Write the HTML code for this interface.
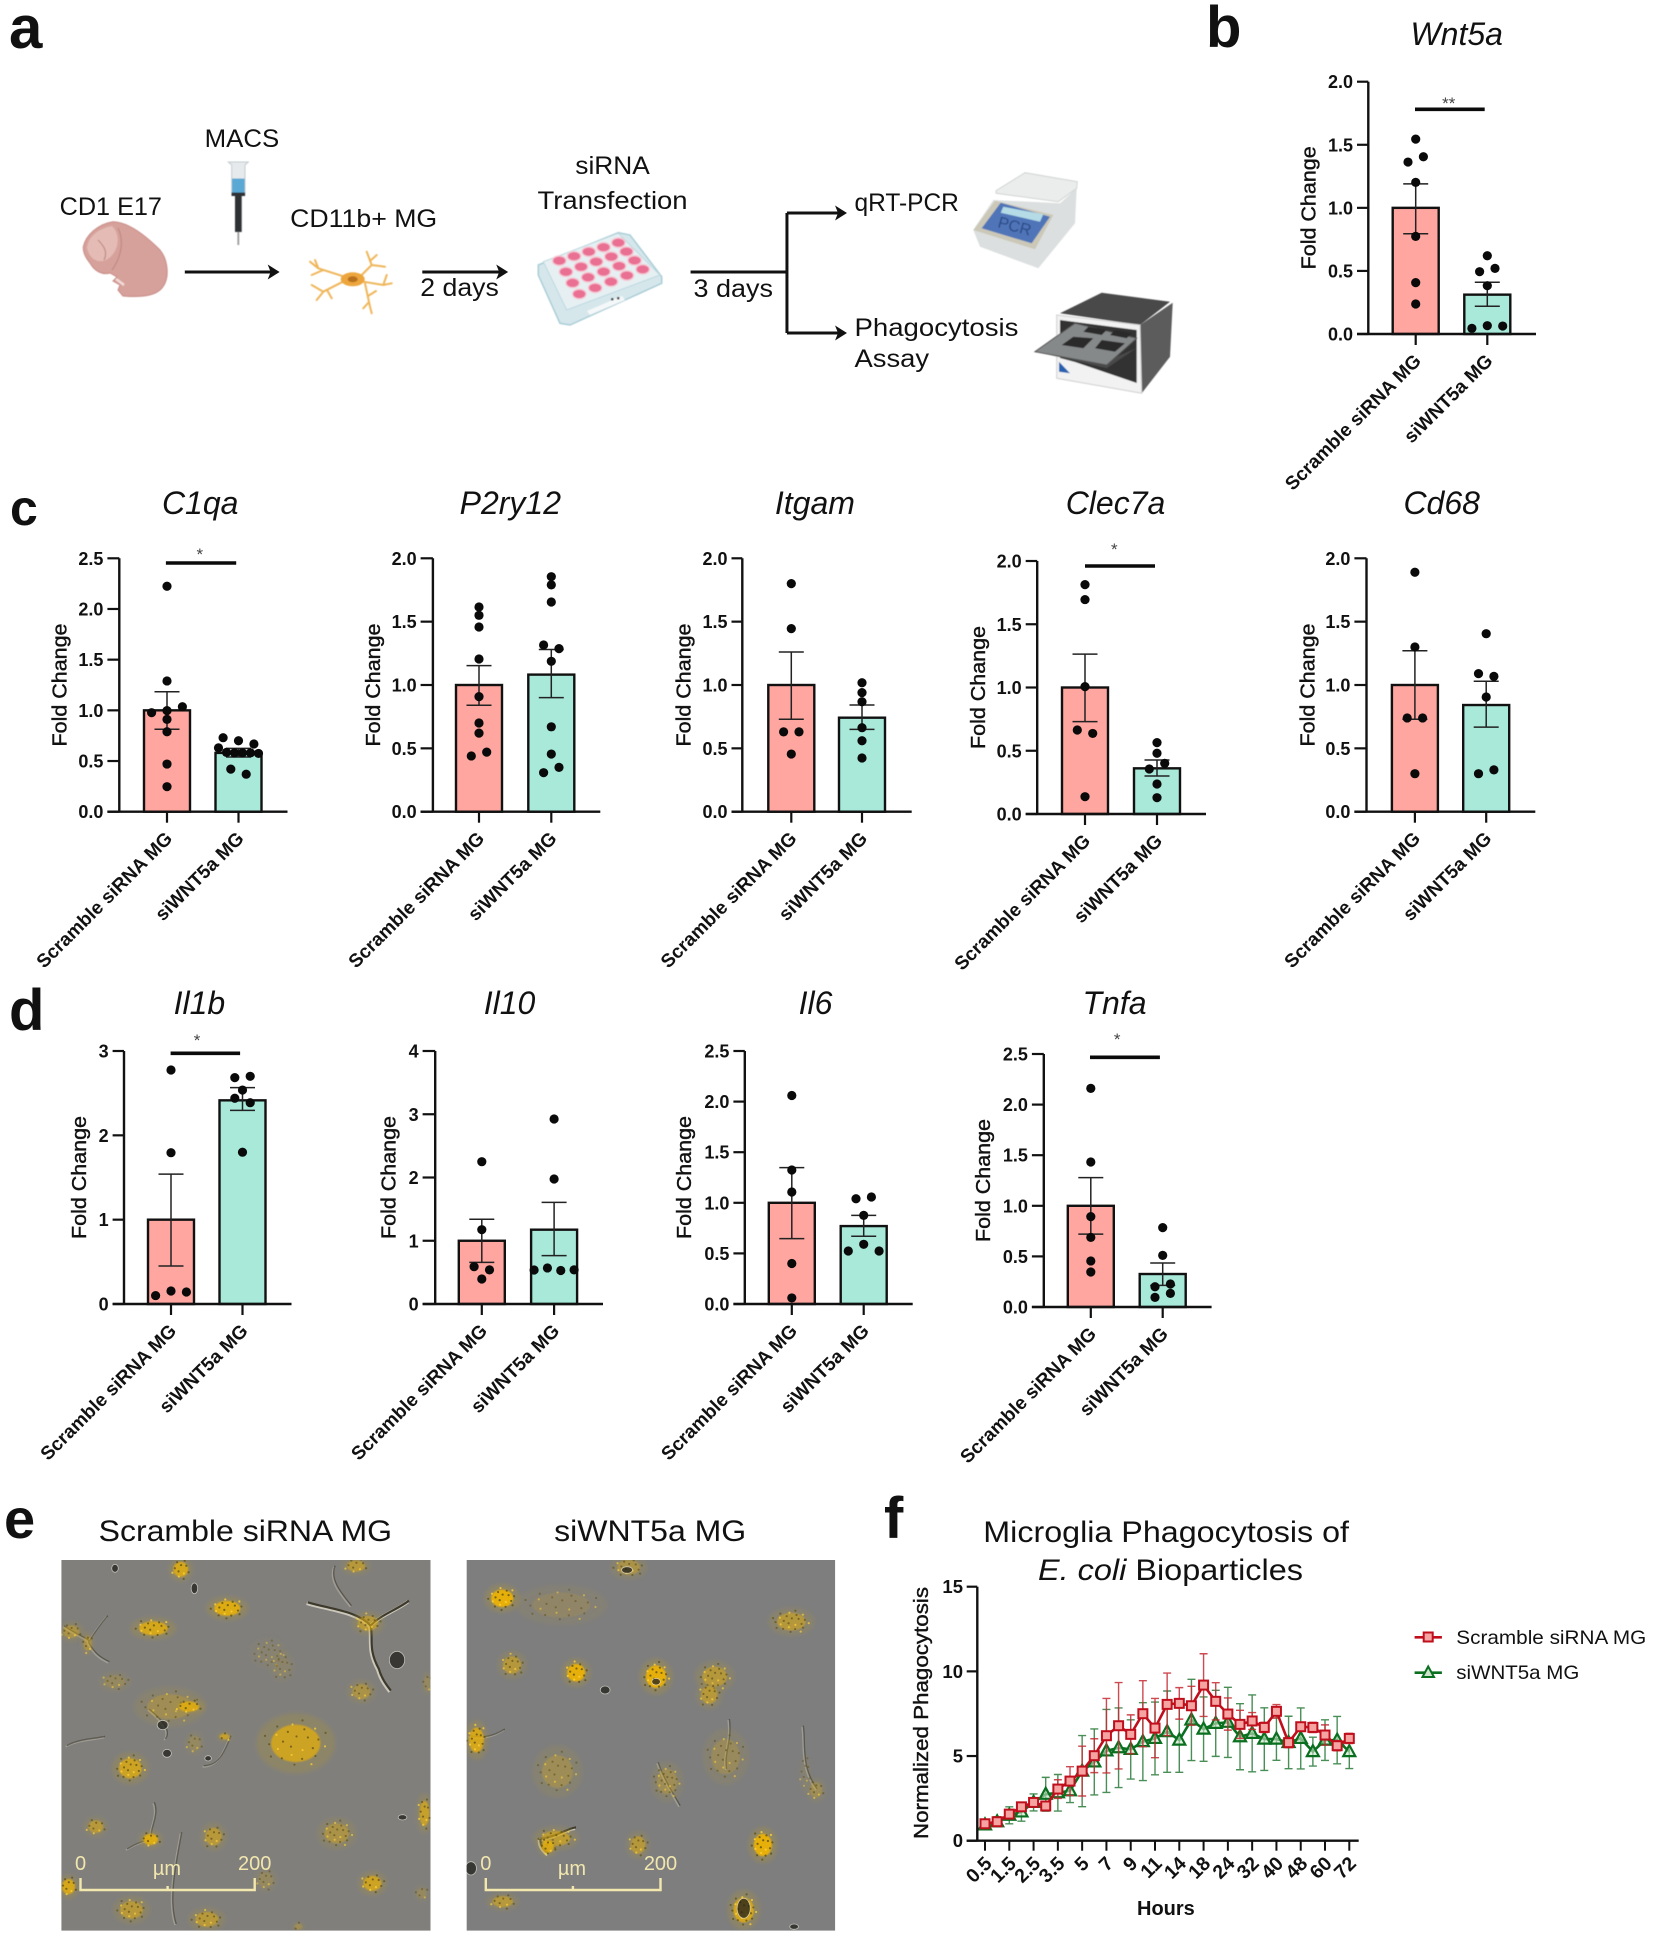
<!DOCTYPE html>
<html lang="en">
<head>
<meta charset="utf-8">
<title>Microglia siWNT5a figure</title>
<style>
html,body{margin:0;padding:0;background:#fff}
svg{display:block}
text{font-family:"Liberation Sans",Arial,sans-serif;fill:#111}
</style>
</head>
<body>
<svg id="fig" width="1654" height="1942" viewBox="0 0 1654 1942">
<defs>
  <filter id="soft" x="-30%" y="-30%" width="160%" height="160%"><feGaussianBlur stdDeviation="2.2"/></filter>
  <filter id="softer" x="-30%" y="-30%" width="160%" height="160%"><feGaussianBlur stdDeviation="0.8"/></filter>
  <filter id="illus" x="-5%" y="-5%" width="110%" height="110%"><feGaussianBlur stdDeviation="0.5"/></filter>
  <clipPath id="clipA"><rect x="61.3" y="1560" width="369.2" height="370.7"/></clipPath>
  <clipPath id="clipB"><rect x="466.6" y="1560" width="368.6" height="370.7"/></clipPath>
  <marker id="ah" markerWidth="5" markerHeight="5" refX="3.2" refY="2.5" orient="auto"><path d="M0 0L4 2.5L0 5L1 2.5Z" fill="#111"/></marker>
</defs>

<g>
  <text x="9" y="48" font-size="60" font-weight="700">a</text>
  <text x="1206" y="47" font-size="58" font-weight="700">b</text>
  <text x="10" y="525" font-size="50" font-weight="700">c</text>
  <text x="9" y="1030" font-size="58" font-weight="700">d</text>
  <text x="4" y="1538" font-size="56" font-weight="700">e</text>
  <text x="884" y="1538" font-size="58" font-weight="700">f</text>
</g>

<g id="schematic">
  <g transform="scale(0.99363 1)">
  <g font-size="25">
    <text x="206" y="147" textLength="75" lengthAdjust="spacingAndGlyphs">MACS</text>
    <text x="60" y="215" textLength="103" lengthAdjust="spacingAndGlyphs">CD1 E17</text>
    <text x="292" y="227" textLength="148" lengthAdjust="spacingAndGlyphs">CD11b+ MG</text>
    <text x="579" y="174" textLength="75" lengthAdjust="spacingAndGlyphs">siRNA</text>
    <text x="541" y="209" textLength="151" lengthAdjust="spacingAndGlyphs">Transfection</text>
    <text x="860" y="211" textLength="105" lengthAdjust="spacingAndGlyphs">qRT-PCR</text>
    <text x="860" y="336" textLength="165" lengthAdjust="spacingAndGlyphs">Phagocytosis</text>
    <text x="860" y="367" textLength="75" lengthAdjust="spacingAndGlyphs">Assay</text>
    <text x="423" y="296" textLength="79" lengthAdjust="spacingAndGlyphs">2 days</text>
    <text x="698" y="297" textLength="80" lengthAdjust="spacingAndGlyphs">3 days</text>
  </g>
  <g stroke="#111" stroke-width="3" fill="none">
    <line x1="186" y1="272" x2="279" y2="272" marker-end="url(#ah)"/>
    <line x1="425" y1="272" x2="509" y2="272" marker-end="url(#ah)"/>
    <path d="M695 272H792M792 213V333"/>
    <line x1="792" y1="213" x2="850" y2="213" marker-end="url(#ah)"/>
    <line x1="792" y1="333" x2="850" y2="333" marker-end="url(#ah)"/>
  </g>
  </g>
  <g filter="url(#illus)">
    <path d="M83.3 246.7C86 235 98 224 113 221.7C130 222 150 240 160 250C168 260 171 280 160 290C152 297 135 297 123 296L118 290L120 285L113 281L117 277L110 273C103 275 95 272 90 263C85 257 83 252 83.3 246.7Z" fill="#d7a19b" stroke="#c78a84"/>
    <path d="M87 248C88 236 100 228 112 226C122 236 118 254 106 260C96 264 89 257 87 248Z" fill="#e4bcb5"/>
    <path d="M98 240C104 246 108 252 104 260M118 228C124 240 122 256 112 270" fill="none" stroke="#c08a84" stroke-width="1.2"/>
    <path d="M116 279L124 285" stroke="#f2dcd8" stroke-width="2.5" fill="none"/>
  </g>
  <g filter="url(#illus)">
    <path d="M228.3 162H248.3L245 165V193H231.7V165Z" fill="#e6eaec" stroke="#c4cbce"/>
    <rect x="232" y="178.5" width="12.6" height="14.5" fill="#5aa8d4"/>
    <rect x="231.5" y="192.5" width="13.6" height="3.5" fill="#2e3236"/>
    <rect x="235" y="195" width="6.7" height="37" fill="#2e3236"/>
    <line x1="238.3" y1="232" x2="238.3" y2="245" stroke="#9a9a9a" stroke-width="1.8"/>
  </g>
  <g fill="none" stroke="#efb65a" stroke-width="2" stroke-linecap="round" filter="url(#illus)">
    <path d="M352.7 279.3L318.3 268.3L310 261.7M318.3 268.3L315 260M323.3 270L311.7 275M343 281.7L323.3 291.7L311.7 285M323.3 291.7L316.7 300M327 290L331.7 298.3M361.7 275L371.7 265L366.7 251.7M371.7 265L385 266.7M370 261L376.7 255M363.3 281.7L383.3 285L391.7 283.3M383.3 285L386.7 275M365 283.3L370 306.7L371.7 313.3M369 302L363.3 308.3M368 296L376 291"/>
    <ellipse cx="352.7" cy="279.3" rx="12" ry="7" fill="#eda63c" stroke="none"/>
    <ellipse cx="352.7" cy="279.3" rx="5" ry="3" fill="#b8701c" stroke="none"/>
  </g>
  <g id="plate" filter="url(#illus)">
    <polygon points="538.3,265 618.3,232.7 630,235 661.7,276.7 661.7,283.3 570,325 560,323.3 538.3,275" fill="#d6e7ec" stroke="#a9cdd6" stroke-width="1.5"/>
    <polygon points="543.3,261.7 618.3,233.3 660,275 566.7,310" fill="#e6f0f3" stroke="#bcd8df"/>
    <polygon points="587,311 622,296 625,300 590,315" fill="#f5f8f9"/>
    <rect x="611" y="298" width="2.5" height="2.5" fill="#444"/><rect x="617" y="297" width="2.5" height="2.5" fill="#444"/>
  </g>
  <g filter="url(#illus)">
    <polygon points="973.3,230 993.3,200 1060,203.3 1076.7,188.3 1075,223.3 1038.3,268.3 980,246.7" fill="#dcdfdf"/>
    <polygon points="973.3,230 995,200.7 1053.3,215 1035,249.3" fill="#cbc8b8"/>
    <polygon points="981.7,228.3 1000.7,202.7 1050,216.7 1031.7,243.3" fill="#4f74b8"/>
    <polygon points="1003.3,206.7 1043.3,214.3 1040,221.7 1000.7,212.7" fill="#b4dbe6"/>
    <polygon points="996,190.7 1025,172.7 1077.3,181.7 1076.7,188.3 1058.3,201.7 996,193.3" fill="#ebecec" stroke="#d2d5d5"/>
    <text x="997" y="227" font-size="16" transform="rotate(15 997 227)" style="fill:#2c4a86">PCR</text>
  </g>
  <g filter="url(#illus)">
    <polygon points="1060,313.3 1101.7,292.7 1170,301.7 1140,325" fill="#4a4a4a"/>
    <polygon points="1140,325 1172.7,302.7 1170,356.7 1141.7,393.3" fill="#5c5c5c"/>
    <polygon points="1056.7,315 1140,325 1141.7,393.3 1056.7,378.3" fill="#f2f2f2" stroke="#d0d0d0"/>
    <polygon points="1060,320 1136.7,330 1136.7,383 1075,362 1060,358" fill="#303030"/>
    <polygon points="1036.7,351.7 1106.7,368.3 1136.7,348 1106.7,361 1050,345" fill="#4a4a4a"/>
    <polygon points="1035,351.7 1075,323.3 1136.7,338.3 1106.7,365" fill="#86898a" stroke="#555"/>
    <polygon points="1088.3,326.7 1106.7,330 1101.7,335 1083.3,331.7" fill="#2c2c2c"/>
    <polygon points="1115,330 1131.7,333.3 1126.7,338.3 1110,335" fill="#2c2c2c"/>
    <polygon points="1073.3,336.7 1093.3,338.3 1083.3,348.3 1061.7,345" fill="#2c2c2c"/>
    <polygon points="1101.7,340 1125,343.3 1115,351.7 1095,348.3" fill="#2c2c2c"/>
    <polygon points="1059,361.7 1070,373.3 1059,371.7" fill="#2860b0"/>
  </g>
</g>

<g id="charts"></g>

<g id="panelE">
  <text x="98.6" y="1541" font-size="30" textLength="293.5" lengthAdjust="spacingAndGlyphs">Scramble siRNA MG</text>
  <text x="554.2" y="1541" font-size="30" textLength="192" lengthAdjust="spacingAndGlyphs">siWNT5a MG</text>
  <g clip-path="url(#clipA)" id="imgA"><rect x="61.3" y="1560" width="369.2" height="370.7" fill="#807f7c"/></g>
  <g clip-path="url(#clipB)" id="imgB"><rect x="466.6" y="1560" width="368.6" height="370.7" fill="#7e7e7e"/></g>
  <g>
    <path d="M80.5 1878V1890H254.7V1878M167.6 1886V1890" fill="none" stroke="#f2e8ae" stroke-width="2.4"/>
    <text x="80.5" y="1870" font-size="20" text-anchor="middle" style="fill:#f0e6ae">0</text>
    <text x="167" y="1875" font-size="20" text-anchor="middle" style="fill:#f0e6ae">µm</text>
    <text x="254.7" y="1870" font-size="20" text-anchor="middle" style="fill:#f0e6ae">200</text>
  </g>
  <g>
    <path d="M485.8 1878V1890H660.5V1878M572.9 1886V1890" fill="none" stroke="#f2e8ae" stroke-width="2.4"/>
    <text x="485.8" y="1870" font-size="20" text-anchor="middle" style="fill:#f0e6ae">0</text>
    <text x="572" y="1875" font-size="20" text-anchor="middle" style="fill:#f0e6ae">µm</text>
    <text x="660.5" y="1870" font-size="20" text-anchor="middle" style="fill:#f0e6ae">200</text>
  </g>
</g>

<g id="panelF">
  <text x="983.3" y="1542" font-size="30" textLength="365.7" lengthAdjust="spacingAndGlyphs">Microglia Phagocytosis of</text>
  <text x="1038" y="1580" font-size="30" textLength="265" lengthAdjust="spacingAndGlyphs"><tspan font-style="italic">E. coli</tspan> Bioparticles</text>
  <text transform="translate(928 1713) rotate(-90)" font-size="20" text-anchor="middle" textLength="252" lengthAdjust="spacingAndGlyphs" stroke="#111" stroke-width="0.4">Normalized Phagocytosis</text>
  <text x="1165.9" y="1915" font-size="20" font-weight="700" text-anchor="middle">Hours</text>
  <g>
    <g>
      <line x1="1414.6" y1="1637.3" x2="1441.9" y2="1637.3" stroke="#c00f1c" stroke-width="2.6"/>
      <rect x="1423.7" y="1632.5" width="9" height="9" fill="#f6a4a2" stroke="#c00f1c" stroke-width="2"/>
      <text x="1456.3" y="1644" font-size="19.5" textLength="190" lengthAdjust="spacingAndGlyphs">Scramble siRNA MG</text>
    </g>
    <g>
      <line x1="1414.6" y1="1672.7" x2="1441.9" y2="1672.7" stroke="#0a7020" stroke-width="2.6"/>
      <polygon points="1428.2,1666.5 1434,1677 1422.5,1677" fill="#cfe6cc" stroke="#0a7020" stroke-width="2"/>
      <text x="1456.3" y="1679" font-size="19.5" textLength="123" lengthAdjust="spacingAndGlyphs">siWNT5a MG</text>
    </g>
  </g>
</g>
</svg>

<script>
// ---- bar chart data ----
const groups = ["Scramble siRNA MG", "siWNT5a MG"];
const ticks20 = ["0.0", "0.5", "1.0", "1.5", "2.0"];
const ticks25 = ["0.0", "0.5", "1.0", "1.5", "2.0", "2.5"];
const ticks3 = ["0", "1", "2", "3"];
const ticks4 = ["0", "1", "2", "3", "4"];

const wnt5aMeans = [1, 0.312];
const wnt5aErrHigh = [1.19, 0.41];
const wnt5aErrLow = [0.795, 0.22];
const wnt5aScramble = [1.545, 1.363, 1.405, 1.202, 0.774, 0.407, 0.238];
const wnt5aSi = [0.62, 0.494, 0.52, 0.383, 0.045, 0.066, 0.063];

const c1qaMeans = [1, 0.58];
const c1qaErrHigh = [1.184, 0.625];
const c1qaErrLow = [0.813, 0.54];
const c1qaScramble = [2.224, 1.29, 0.977, 0.997, 1.036, 0.911, 0.789, 0.47, 0.247];
const c1qaSi = [0.73, 0.7, 0.63, 0.668, 0.585, 0.58, 0.58, 0.58, 0.575, 0.42, 0.37];

const p2ry12Means = [1, 1.082];
const p2ry12ErrHigh = [1.153, 1.28];
const p2ry12ErrLow = [0.84, 0.9];
const p2ry12Scramble = [1.616, 1.55, 1.458, 1.205, 0.908, 0.7, 0.62, 0.44, 0.47];
const p2ry12Si = [1.855, 1.79, 1.655, 1.316, 1.287, 1.187, 0.67, 0.455, 0.308, 0.35];

const itgamMeans = [1, 0.742];
const itgamErrHigh = [1.26, 0.842];
const itgamErrLow = [0.73, 0.65];
const itgamScramble = [1.8, 1.445, 0.63, 0.63, 0.455];
const itgamSi = [1.018, 0.94, 0.868, 0.663, 0.56, 0.424];

const clec7aMeans = [1, 0.361];
const clec7aErrHigh = [1.264, 0.427];
const clec7aErrLow = [0.73, 0.3];
const clec7aScramble = [1.813, 1.695, 1.007, 0.664, 0.637, 0.137];
const clec7aSi = [0.564, 0.48, 0.356, 0.4, 0.237, 0.129];

const cd68Means = [1, 0.842];
const cd68ErrHigh = [1.27, 1.03];
const cd68ErrLow = [0.73, 0.668];
const cd68Scramble = [1.89, 1.3, 0.74, 0.74, 0.3];
const cd68Si = [1.405, 1.09, 1.068, 0.905, 0.3, 0.33];

const il1bMeans = [1, 2.415];
const il1bErrHigh = [1.54, 2.565];
const il1bErrLow = [0.45, 2.296];
const il1bScramble = [2.775, 1.794, 0.1, 0.154, 0.142];
const il1bSi = [2.684, 2.7, 2.537, 2.44, 2.387, 1.8];

const il10Means = [1, 1.175];
const il10ErrHigh = [1.339, 1.607];
const il10ErrLow = [0.659, 0.764];
const il10Scramble = [2.25, 1.175, 0.59, 0.54, 0.395];
const il10Si = [2.925, 1.976, 0.537, 0.57, 0.53, 0.54];

const il6Means = [1, 0.77];
const il6ErrHigh = [1.347, 0.876];
const il6ErrLow = [0.646, 0.669];
const il6Scramble = [2.06, 1.324, 1.107, 0.4, 0.06];
const il6Si = [1.04, 1.057, 0.876, 0.524, 0.59, 0.524];

const tnfaMeans = [1, 0.326];
const tnfaErrHigh = [1.278, 0.435];
const tnfaErrLow = [0.72, 0.214];
const tnfaScramble = [2.16, 1.433, 0.893, 0.688, 0.455, 0.346];
const tnfaSi = [0.784, 0.51, 0.2, 0.227, 0.095, 0.135];

// ---- line chart data ----
const hourCategories = ["0.5","1","1.5","2","2.5","3","3.5","4","5","6","7","8","9","10","11","12","14","16","18","21","24","28","32","36","40","44","48","54","60","66","72"];
const hourTickLabels = ["0.5","1.5","2.5","3.5","5","7","9","11","14","18","24","32","40","48","60","72"];
const phagoTicks = ["0", "5", "10", "15"];
const scrambleSeries = [1.0,1.12,1.57,2.0,2.26,2.05,3.05,3.52,4.11,5.02,6.2,6.79,6.28,7.5,6.65,8.05,8.11,7.97,9.19,8.23,7.48,6.87,7.07,6.69,7.64,5.79,6.73,6.69,6.24,5.61,6.04];
const scrambleSem = [0.15,0.2,0.25,0.2,0.15,0.25,0.55,0.85,1.47,1.0,2.2,2.55,1.15,1.95,1.75,1.85,0.93,1.15,1.85,1.1,0.95,0.83,0.5,0.3,0.4,0.3,0.2,0.3,0.6,0.3,0.3];
const siSeries = [0.93,1.12,1.5,1.7,2.26,2.74,2.83,2.95,4.11,4.65,5.3,5.49,5.39,5.85,6.04,6.44,5.94,7.13,6.59,6.93,6.99,6.14,6.34,6.0,6.0,5.8,6.04,5.26,5.94,5.94,5.26];
const siSem = [0.15,0.3,0.5,0.55,0.5,1.0,1.08,0.7,2.1,1.95,2.45,2.35,1.75,2.3,2.15,2.4,1.9,2.4,1.9,1.95,2.07,1.95,2.27,1.85,1.25,1.55,1.8,0.85,1.2,1.4,1.0];

const svgRoot = document.getElementById('fig');
const NS = svgRoot.namespaceURI;
function svgEl(tag, attrs, parent, txt) {
  const e = document.createElementNS(NS, tag);
  for (const k in attrs) e.setAttribute(k, attrs[k]);
  if (txt !== undefined) e.textContent = txt;
  parent.appendChild(e);
  return e;
}

// Prism-style binning of points into rows, then symmetric spread
function swarmOffsets(vals, yOf) {
  const order = vals.map((v, i) => i).sort((a, b) => vals[b] - vals[a]);
  const rows = [];
  order.forEach(i => {
    const row = rows[rows.length - 1];
    if (row && Math.abs(yOf(vals[i]) - yOf(vals[row[0]])) < 7) row.push(i);
    else rows.push([i]);
  });
  const off = new Array(vals.length).fill(0);
  rows.forEach(row => {
    const members = row.slice().sort((a, b) => a - b);
    const n = members.length;
    const sp = n <= 3 ? 15.4 : Math.min(15.4, 40 / (n - 1));
    members.forEach((idx, j) => { off[idx] = (j - (n - 1) / 2) * sp; });
  });
  return off;
}

function drawBarChart(p) {
  const host = document.getElementById('charts');
  const g = svgEl('g', {}, host);
  
  
  const b = p.box;
  const yMax = parseFloat(p.ticks[p.ticks.length - 1]);
  const yScale = v => b.y0 - (v / yMax) * (b.y0 - b.yTop);
  const centers = [b.c1, b.c2];
  const fills = ['#ffa6a0', '#a8e9d9'];
  const serieses = [p.scramble, p.si];

  const title = svgEl('text', {x: b.titleX, y: b.titleY, 'font-size': 32, 'font-style': 'italic', 'text-anchor': 'middle'}, g, p.title);
  
  

  const yt = svgEl('text', {transform: 'translate(' + (b.axisX + b.yTitleOff + 7) + ' ' + ((b.yTop + b.y0) / 2) + ') rotate(-90)', 'font-size': 20, 'text-anchor': 'middle', textLength: 123, lengthAdjust: 'spacingAndGlyphs', stroke: '#111', 'stroke-width': 0.4}, g, 'Fold Change');
  
  

  [0, 1].forEach(i => {
    const x = centers[i];
    const bar = svgEl('rect', {x: x - 23, y: yScale(p.means[i]), width: 46, height: b.y0 - yScale(p.means[i]), fill: fills[i], stroke: '#111', 'stroke-width': 2.4}, g);
    
    

    const err = svgEl('path', {d: 'M' + x + ' ' + yScale(p.errHigh[i]) + 'V' + yScale(p.errLow[i]) +
      'M' + (x - 12.5) + ' ' + yScale(p.errHigh[i]) + 'H' + (x + 12.5) +
      'M' + (x - 12.5) + ' ' + yScale(p.errLow[i]) + 'H' + (x + 12.5), fill: 'none', stroke: '#222', 'stroke-width': 1.5}, g);
    
    

    const offs = swarmOffsets(serieses[i], yScale);
    serieses[i].forEach((v, k) => {
      const dot = svgEl('circle', {cx: x + offs[k], cy: yScale(v), r: 4.6, fill: '#0a0a0a'}, g);
      
      
    });

    const t = svgEl('line', {x1: x, y1: b.y0, x2: x, y2: b.y0 + 11, stroke: '#111', 'stroke-width': 2.2}, g);
    
    

    const lab = svgEl('text', {transform: 'translate(' + (x + 6.5) + ' ' + (b.y0 + 28) + ') rotate(-45)', 'font-size': 19, 'font-weight': 700, 'text-anchor': 'end'}, g, groups[i]);
    
    
  });

  const axes = svgEl('path', {d: 'M' + b.axisX + ' ' + b.yTop + 'V' + b.y0 + 'M' + b.tickStart + ' ' + b.y0 + 'H' + b.xEnd, fill: 'none', stroke: '#111', 'stroke-width': 2.4}, g);
  
  

  p.ticks.forEach(label => {
    const y = yScale(parseFloat(label));
    const tk = svgEl('line', {x1: b.tickStart, y1: y, x2: b.axisX, y2: y, stroke: '#111', 'stroke-width': 2.2}, g);
    
    
    const tl = svgEl('text', {x: b.tickStart - 4, y: y + 6.5, 'font-size': 18, 'font-weight': 700, 'text-anchor': 'end'}, g, label);
    
    
  });

  if (p.sig) {
    const s = p.sig;
    const sb = svgEl('line', {x1: s.x1, y1: s.y, x2: s.x2, y2: s.y, stroke: '#0a0a0a', 'stroke-width': 3.6}, g);
    
    
    const st = svgEl('text', {x: s.sx, y: s.sy + 7, 'font-size': 17, 'text-anchor': 'middle', style: 'fill:#444'}, g, s.label);
    
    
  }
}

drawBarChart({key:'wnt5a', title:'Wnt5a', ticks:ticks20, means:wnt5aMeans, errHigh:wnt5aErrHigh, errLow:wnt5aErrLow, scramble:wnt5aScramble, si:wnt5aSi,
  box:{axisX:1368.3,yTop:81.7,y0:334,tickStart:1357,xEnd:1536,c1:1415.7,c2:1487.3,titleX:1456.7,titleY:45,yTitleOff:-60},
  sig:{x1:1415,x2:1484.7,y:109.3,sx:1448.7,sy:102,label:'**'}});
drawBarChart({key:'c1qa', title:'C1qa', ticks:ticks25, means:c1qaMeans, errHigh:c1qaErrHigh, errLow:c1qaErrLow, scramble:c1qaScramble, si:c1qaSi,
  box:{axisX:119.3,yTop:558.3,y0:811.7,tickStart:107.4,xEnd:287.5,c1:167,c2:238.5,titleX:200.2,titleY:514,yTitleOff:-60},
  sig:{x1:165.9,x2:236.2,y:563,sx:199.8,sy:553,label:'*'}});
drawBarChart({key:'p2ry12', title:'P2ry12', ticks:ticks20, means:p2ry12Means, errHigh:p2ry12ErrHigh, errLow:p2ry12ErrLow, scramble:p2ry12Scramble, si:p2ry12Si,
  box:{axisX:432.9,yTop:558.3,y0:811.7,tickStart:420.6,xEnd:600.3,c1:479,c2:551.3,titleX:510.3,titleY:514,yTitleOff:-60}});
drawBarChart({key:'itgam', title:'Itgam', ticks:ticks20, means:itgamMeans, errHigh:itgamErrHigh, errLow:itgamErrLow, scramble:itgamScramble, si:itgamSi,
  box:{axisX:742.3,yTop:558.3,y0:811.7,tickStart:731.5,xEnd:911.7,c1:791.3,c2:862,titleX:814.9,titleY:514,yTitleOff:-59}});
drawBarChart({key:'clec7a', title:'Clec7a', ticks:ticks20, means:clec7aMeans, errHigh:clec7aErrHigh, errLow:clec7aErrLow, scramble:clec7aScramble, si:clec7aSi,
  box:{axisX:1037.2,yTop:561,y0:814,tickStart:1025.7,xEnd:1206,c1:1085,c2:1157,titleX:1115.5,titleY:514,yTitleOff:-59},
  sig:{x1:1085,x2:1155,y:566,sx:1114.3,sy:548,label:'*'}});
drawBarChart({key:'cd68', title:'Cd68', ticks:ticks20, means:cd68Means, errHigh:cd68ErrHigh, errLow:cd68ErrLow, scramble:cd68Scramble, si:cd68Si,
  box:{axisX:1366.5,yTop:558.3,y0:811.7,tickStart:1354.4,xEnd:1535.3,c1:1414.9,c2:1486.2,titleX:1441.7,titleY:514,yTitleOff:-59}});
drawBarChart({key:'il1b', title:'Il1b', ticks:ticks3, means:il1bMeans, errHigh:il1bErrHigh, errLow:il1bErrLow, scramble:il1bScramble, si:il1bSi,
  box:{axisX:124,yTop:1051,y0:1304,tickStart:112.6,xEnd:291.5,c1:171,c2:242.5,titleX:199.4,titleY:1014,yTitleOff:-45},
  sig:{x1:170.6,x2:240.1,y:1053.3,sx:197.1,sy:1039,label:'*'}});
drawBarChart({key:'il10', title:'Il10', ticks:ticks4, means:il10Means, errHigh:il10ErrHigh, errLow:il10ErrLow, scramble:il10Scramble, si:il10Si,
  box:{axisX:435.2,yTop:1051,y0:1304,tickStart:422.6,xEnd:603,c1:481.8,c2:554.1,titleX:509.5,titleY:1014,yTitleOff:-46.5}});
drawBarChart({key:'il6', title:'Il6', ticks:ticks25, means:il6Means, errHigh:il6ErrHigh, errLow:il6ErrLow, scramble:il6Scramble, si:il6Si,
  box:{axisX:744.8,yTop:1051,y0:1304,tickStart:733.4,xEnd:912.7,c1:791.8,c2:863.7,titleX:815.5,titleY:1014,yTitleOff:-60.8}});
drawBarChart({key:'tnfa', title:'Tnfa', ticks:ticks25, means:tnfaMeans, errHigh:tnfaErrHigh, errLow:tnfaErrLow, scramble:tnfaScramble, si:tnfaSi,
  box:{axisX:1043.8,yTop:1054,y0:1307,tickStart:1031.9,xEnd:1211.6,c1:1090.8,c2:1162.7,titleX:1114.5,titleY:1014,yTitleOff:-60.8},
  sig:{x1:1090,x2:1159.9,y:1057.3,sx:1117.2,sy:1038,label:'*'}});

// ---- line chart ----
(function () {
  const g = document.getElementById('panelF');
  const y0 = 1840.7, yTop = 1586.7, yMax = 15;
  const yS = v => y0 - (v / yMax) * (y0 - yTop);
  const xS = i => 985 + i * (1349.3 - 985) / (hourCategories.length - 1);

  function series(vals, sem, color, errColor, kind, name) {
    const sg = svgEl('g', {}, g);
    
    
    vals.forEach((v, i) => {
      const x = xS(i), h = yS(v + sem[i]), l = yS(v - sem[i]);
      const eb = svgEl('path', {d: 'M' + x + ' ' + h + 'V' + l + 'M' + (x - 4) + ' ' + h + 'H' + (x + 4) + 'M' + (x - 4) + ' ' + l + 'H' + (x + 4), fill: 'none', stroke: errColor, 'stroke-width': 1.4, opacity: 0.85}, sg);
      
      
    });
    const ln = svgEl('polyline', {points: vals.map((v, i) => xS(i) + ',' + yS(v)).join(' '), fill: 'none', stroke: color, 'stroke-width': 2.6}, sg);
    
    
    vals.forEach((v, i) => {
      const x = xS(i), y = yS(v);
      let m;
      if (kind === 'square') m = svgEl('rect', {x: x - 4.5, y: y - 4.5, width: 9, height: 9, fill: '#f6a4a2', stroke: color, 'stroke-width': 2}, sg);
      else m = svgEl('polygon', {points: x + ',' + (y - 6.5) + ' ' + (x + 6) + ',' + (y + 4.5) + ' ' + (x - 6) + ',' + (y + 4.5), fill: '#cfe6cc', 'fill-opacity': 0.6, stroke: color, 'stroke-width': 2.2}, sg);
      
      
    });
  }
  series(siSeries, siSem, '#0a7020', '#2a7a3a', 'triangle', 'siwnt5a');
  series(scrambleSeries, scrambleSem, '#c00f1c', '#c42a32', 'square', 'scramble');

  const axes = svgEl('path', {d: 'M977.3 ' + yTop + 'V' + y0 + 'M966.7 ' + y0 + 'H1358.7', fill: 'none', stroke: '#111', 'stroke-width': 2.4}, g);
  
  

  phagoTicks.forEach(label => {
    const y = yS(parseFloat(label));
    const tk = svgEl('line', {x1: 966.7, y1: y, x2: 977.3, y2: y, stroke: '#111', 'stroke-width': 2.2}, g);
    
    
    const tl = svgEl('text', {x: 963, y: y + 6.5, 'font-size': 18.5, 'font-weight': 700, 'text-anchor': 'end'}, g, label);
    
    
  });
  hourTickLabels.forEach(label => {
    const x = xS(hourCategories.indexOf(label));
    const tk = svgEl('line', {x1: x, y1: y0, x2: x, y2: y0 + 10, stroke: '#111', 'stroke-width': 2}, g);
    
    
    const tl = svgEl('text', {transform: 'translate(' + (x + 8) + ' ' + (y0 + 24) + ') rotate(-45)', 'font-size': 19.5, 'font-weight': 700, 'text-anchor': 'end'}, g, label);
    
    
  });
})();

// ---- well plate wells (illustration) ----
(function () {
  const host = document.getElementById('plate');
  const L = [559.3, 260.7], T = [618.3, 242.7], R = [642.7, 269.3], B = [579.3, 294];
  for (let c = 0; c < 5; c++) for (let r = 0; r < 4; r++) {
    const u = c / 4, v = r / 3;
    const x = (1 - u) * (1 - v) * L[0] + u * (1 - v) * T[0] + u * v * R[0] + (1 - u) * v * B[0];
    const y = (1 - u) * (1 - v) * L[1] + u * (1 - v) * T[1] + u * v * R[1] + (1 - u) * v * B[1];
    const w = svgEl('ellipse', {cx: x, cy: y, rx: 6.8, ry: 4.8, fill: '#ea6f93', stroke: '#f5c9d4', 'stroke-width': 1.4}, host);
    
    
  }
})();

// ---- micrographs (illustrative cell textures) ----
(function () {
  const zx = x => x / 1.826, zy = y => y / 3 + 1480;
  const blobsA = [[330,268,18,30,.9],[650,258,22,22,.7],[415,385,32,30,.95],[280,445,35,28,.9],[130,455,20,25,.6],[160,490,10,30,.6],[210,605,25,25,.4],[490,520,30,40,.2],[515,560,20,40,.25],[672,430,25,30,.7],[660,635,22,30,.6],[780,610,8,30,.4],[310,680,55,50,.5],[345,680,25,20,.9],[540,790,60,75,.85],[410,770,12,12,.8],[355,790,15,30,.4],[238,865,28,40,.85],[175,1040,18,25,.7],[275,1078,18,22,.95],[390,1070,20,35,.7],[615,1060,30,40,.6],[775,1000,12,50,.8],[680,1210,22,30,.85],[125,1220,16,30,.9],[240,1290,28,35,.7],[378,1318,28,30,.7],[485,1200,18,30,.4],[770,1240,12,20,.4],[545,1340,10,12,.5]];
  const blobsB = [[917,355,27,35,1],[1025,375,70,50,.35],[1148,262,28,30,.6],[1445,425,35,35,.7],[935,555,22,35,.7],[1052,578,22,35,1],[1198,590,25,45,1],[1305,590,30,40,.7],[1295,645,20,35,.7],[870,780,18,50,.9],[1018,875,38,65,.5],[1325,830,35,70,.45],[1218,905,25,50,.5],[1490,930,15,30,.5],[1470,880,10,50,.2],[1015,1075,35,30,.75],[1000,1100,15,25,.9],[1165,1095,18,35,.7],[1393,1095,22,45,1],[918,1265,25,22,.7],[1358,1290,25,50,.9]];
  const darkA = [[355,325,6,16],[725,540,14,26],[305,820,8,12],[380,835,6,8],[735,1012,8,8],[297,735,10,14],[210,265,6,12]];
  const darkB = [[1105,630,9,12],[1198,605,8,10],[860,1165,10,20],[1358,1285,12,30],[1450,1340,8,8],[1145,270,10,10]];
  const linesA = ['M560 370C600 390 650 395 675 440C690 410 720 395 745 365M675 440C680 480 670 510 690 570C695 600 705 620 712 635','M115 440C140 470 165 480 160 490C175 450 185 430 195 410M160 490C170 520 180 535 198 548','M270 690C300 730 310 760 300 780M370 860C400 860 410 810 420 770M120 800C140 780 170 780 190 772','M280 970C290 1010 270 1050 275 1080C250 1090 240 1100 230 1110M330 1060C320 1150 305 1260 320 1335M610 260C600 300 620 340 640 380'];
  const linesB = ['M985 1080C1020 1070 1030 1050 1050 1045M985 1080C985 1100 990 1110 1000 1125','M855 770C880 780 900 770 920 750M1330 720C1335 790 1320 820 1325 870','M1465 740C1470 800 1460 860 1490 930M1200 850C1210 900 1230 950 1240 980'];
  function paint(id, blobs, darks, lines, strongCount) {
    const host = document.getElementById(id);
    lines.forEach((d, li) => {
      const strong = li < strongCount;
      const scaled = d.replace(/(-?\d+(?:\.\d+)?) (-?\d+(?:\.\d+)?)/g, (m, a, b) => zx(+a).toFixed(1) + ' ' + zy(+b).toFixed(1));
      const halo = svgEl('path', {d: scaled, fill: 'none', stroke: '#e4e0d0', 'stroke-width': strong ? 3.5 : 2, opacity: strong ? .75 : .3}, host);
      
      
      const core = svgEl('path', {d: scaled, fill: 'none', stroke: '#3d3a2c', 'stroke-width': strong ? 2.2 : 1.4, opacity: strong ? 1 : .6, transform: 'translate(1 -1)'}, host);
      
      
    });
    blobs.forEach(b => {
      const cx = zx(b[0]), cy = zy(b[1]), rx = b[2] / 1.826, ry = b[3] / 3;
      const a = svgEl('ellipse', {cx: cx, cy: cy, rx: rx * 1.2, ry: ry * 1.2, fill: '#a8923f', opacity: b[4] * .4, filter: 'url(#soft)'}, host);
      
      
      const c = svgEl('ellipse', {cx: cx, cy: cy, rx: rx * .75, ry: ry * .75, fill: '#f0b400', opacity: b[4] * b[4] * .9, filter: 'url(#softer)'}, host);
      
      
      // phyllotaxis speckle so blobs read as granular rather than smooth
      const n = Math.min(26, Math.round(rx * ry / 9));
      for (let k = 1; k <= n; k++) {
        const r = Math.sqrt(k / n), th = k * 2.39996;
        const s = svgEl('circle', {cx: cx + rx * r * Math.cos(th), cy: cy + ry * r * Math.sin(th), r: 1.1, fill: k % 3 ? '#5e5018' : '#ffd23a', opacity: .35 + .45 * b[4]}, host);
        
        
      }
    });
    darks.forEach(d => {
      const e = svgEl('ellipse', {cx: zx(d[0]), cy: zy(d[1]), rx: d[2] / 1.826, ry: d[3] / 3, fill: '#20201c', opacity: .75, stroke: '#d8d8cc', 'stroke-width': .8}, host);
      
      
    });
  }
  paint('imgA', blobsA, darkA, linesA, 1);
  paint('imgB', blobsB, darkB, linesB, 1);
})();
</script>
</body>
</html>
